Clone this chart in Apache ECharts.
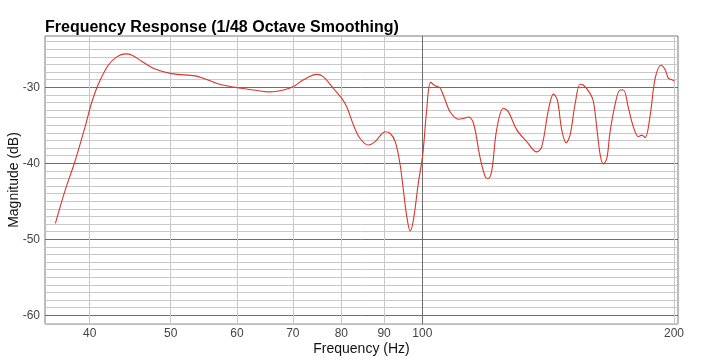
<!DOCTYPE html>
<html>
<head>
<meta charset="utf-8">
<script src="https://cdn.jsdelivr.net/npm/echarts@6/dist/echarts.min.js"></script>
<style>html,body{margin:0;padding:0;background:#fff}#c{width:711px;height:363px}</style>
</head>
<body>
<div id="c"></div>
<script>
const freqs = [36.4,37.4,38.4,39.5,40.2,41.0,42.1,43.1,44.1,44.9,46.2,47.9,50.1,53.5,54.7,56.8,58.9,60.1,62.8,65.7,68.2,70.1,72.1,74.75,76.1,78.2,80.1,81.2,82.7,84.2,86.2,87.8,89.0,90.2,91.5,92.8,94.0,94.9,95.8,96.7,97.55,98.9,100.1,101.2,102.3,103.6,105.0,106.5,107.9,110.4,112.0,113.5,115.1,117.2,118.9,119.9,121.1,122.7,125.0,126.7,129.7,133.3,137.05,138.95,141.5,143.5,145.05,146.8,148.6,150.2,152.3,154.4,155.8,158.7,160.2,161.7,163.2,164.6,166.2,167.7,170.0,172.4,174.0,176.4,178.8,181.3,183.0,184.7,187.3,189.9,193.0,195.2,196.9,198.8,200.2];
const magnitudes = [-47.9,-43.5,-39.8,-35.2,-32.1,-29.5,-27.1,-26.0,-25.6,-25.75,-26.6,-27.6,-28.2,-28.5,-28.8,-29.5,-29.9,-30.05,-30.35,-30.6,-30.35,-29.9,-29.0,-28.3,-28.6,-30.1,-31.45,-32.55,-34.95,-36.7,-37.6,-37.15,-36.4,-35.85,-36.05,-37.15,-40.0,-43.5,-47.0,-48.9,-47.5,-42.6,-38.9,-33.0,-29.35,-29.8,-30.1,-31.7,-33.2,-34.2,-34.1,-33.9,-34.7,-39.2,-41.75,-42.0,-40.9,-35.6,-32.75,-33.2,-35.6,-37.15,-38.5,-37.8,-33.0,-30.9,-31.7,-35.6,-37.3,-36.3,-32.2,-29.6,-29.7,-30.8,-31.9,-35.4,-38.9,-40.1,-39.35,-35.85,-32.3,-30.35,-30.35,-32.75,-35.2,-36.5,-36.3,-36.6,-33.65,-28.8,-27.1,-27.7,-28.8,-29.0,-29.2];
const xTickLabels = [40,50,60,70,80,90,100,200];
const xMinorLines = [40,50,60,70,80,90,200];
const xMajorLines = [100];
const yTickLabels = [-60,-50,-40,-30];
const yMinorLines = [-61,-59,-58,-57,-56,-55,-54,-53,-52,-51,-49,-48,-47,-46,-45,-44,-43,-42,-41,-39,-38,-37,-36,-35,-34,-33,-32,-31,-29,-28,-27,-26,-25,-24];

const X_MIN = 35.37, X_MAX = 202.2, Y_MIN = -61.15, Y_MAX = -23.25;
const FONT = '"Liberation Sans", Arial, Helvetica, sans-serif';

const chart = echarts.init(document.getElementById('c'), null, {renderer: 'canvas'});
chart.setOption({
  animation: false,
  backgroundColor: '#fff',
  title: {
    text: 'Frequency Response (1/48 Octave Smoothing)',
    left: 40, top: 15,
    textStyle: {fontFamily: FONT, fontSize: 16, fontWeight: 'bold', color: '#000'}
  },
  grid: {left: 45, right: 33, top: 36, bottom: 39, show: true, borderColor: '#7a7a7a', borderWidth: 1, containLabel: false, outerBoundsMode: 'none'},
  xAxis: [
    {
      type: 'log', logBase: 10, min: X_MIN, max: X_MAX,
      name: 'Frequency (Hz)', nameLocation: 'middle', nameGap: 18, nameMoveOverlap: false,
      nameTextStyle: {fontFamily: FONT, fontSize: 14, color: '#111', verticalAlign: 'top'},
      axisLine: {show: false},
      axisTick: {show: false, customValues: xMinorLines},
      axisLabel: {show: true, customValues: xTickLabels, margin: 4, fontFamily: FONT, fontSize: 12, color: '#444'},
      splitLine: {show: true, lineStyle: {color: '#c8c8c8', width: 1}}
    },
    {
      type: 'log', logBase: 10, min: X_MIN, max: X_MAX, position: 'bottom',
      axisLine: {show: false},
      axisTick: {show: false, customValues: xMajorLines},
      axisLabel: {show: false},
      splitLine: {show: true, lineStyle: {color: '#6e6e6e', width: 1}}
    }
  ],
  yAxis: [
    {
      type: 'value', min: Y_MIN, max: Y_MAX,
      name: 'Magnitude (dB)', nameLocation: 'middle', nameGap: 24, nameRotate: 90, nameMoveOverlap: false,
      nameTextStyle: {fontFamily: FONT, fontSize: 14, color: '#111'},
      axisLine: {show: false},
      axisTick: {show: false, customValues: yTickLabels},
      axisLabel: {show: true, customValues: yTickLabels, margin: 5, fontFamily: FONT, fontSize: 12, color: '#444'},
      splitLine: {show: true, lineStyle: {color: '#6e6e6e', width: 1}}
    },
    {
      type: 'value', min: Y_MIN, max: Y_MAX, position: 'left',
      axisLine: {show: false},
      axisTick: {show: false, customValues: yMinorLines},
      axisLabel: {show: false},
      splitLine: {show: true, lineStyle: {color: '#c8c8c8', width: 1}}
    }
  ],
  series: [{
    type: 'line',
    xAxisIndex: 0, yAxisIndex: 0,
    data: freqs.map((f, i) => [f, magnitudes[i]]),
    smooth: 0.35,
    showSymbol: false,
    z: 10,
    lineStyle: {color: '#d9352b', width: 1.1}
  }]
});
</script>
</body>
</html>
